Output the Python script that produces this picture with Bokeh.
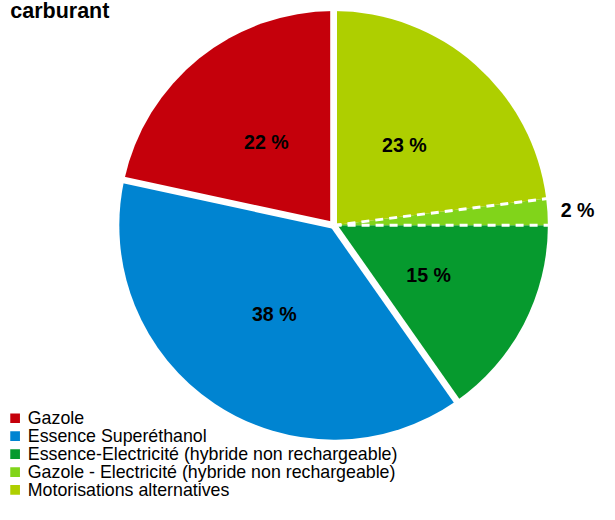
import math
from bokeh.plotting import figure
from bokeh.models import ColumnDataSource, Range1d
from bokeh.core.properties import value
from bokeh.embed import file_html
from bokeh.resources import INLINE

# ---- data ----
title_text = "carburant"
categories = [
    "Gazole",
    "Essence Superéthanol",
    "Essence-Electricité (hybride non rechargeable)",
    "Gazole - Electricité (hybride non rechargeable)",
    "Motorisations alternatives",
]
shares = [21.6, 38.1, 15.3, 2.0, 23.0]
colors = ["#C5000B", "#0084D1", "#069A2E", "#81D41A", "#AECF00"]

# ---- layout: data space mirrors a 615x520 canvas (y up) ----
W, H = 599, 504
RW, RH = 615, 520
CX, CY, R = 342, RH - 232, 220
FONT = "Liberation Sans"

p = figure(width=W, height=H, output_backend="svg", toolbar_location=None,
           x_range=Range1d(0, RW), y_range=Range1d(0, RH),
           x_axis_type=None, y_axis_type=None, min_border=0)
p.outline_line_color = None
p.grid.visible = False
p.background_fill_color = "white"
p.border_fill_color = "white"

total = sum(shares)
starts, ends = [], []
a = math.pi / 2
for v in shares:
    starts.append(a)
    a += v / total * 2 * math.pi
    ends.append(a)

src = ColumnDataSource(dict(start=starts, end=ends, color=colors))
p.wedge(x=CX, y=CY, radius=R, start_angle="start", end_angle="end",
        fill_color="color", line_color=None, source=src)

# separators: solid white gaps, dashed around the smallest slice
small = shares.index(min(shares))
sx0, sy0, sx1, sy1 = [], [], [], []
dx0, dy0, dx1, dy1 = [], [], [], []
n = len(shares)
for k in range(n):
    ang = starts[k]
    prev = (k - 1) % n
    x1 = CX + (R + 3) * math.cos(ang)
    y1 = CY + (R + 3) * math.sin(ang)
    if k == small or prev == small:
        dx0.append(CX); dy0.append(CY); dx1.append(x1); dy1.append(y1)
    else:
        sx0.append(CX); sy0.append(CY); sx1.append(x1); sy1.append(y1)
p.segment(x0=sx0, y0=sy0, x1=sx1, y1=sy1, line_color="white", line_width=6.8)
p.segment(x0=dx0, y0=dy0, x1=dx1, y1=dy1, line_color="white", line_width=3,
          line_dash="8 6")

# percentage labels
lx, ly, lt = [], [], []
for v, s0, e0 in zip(shares, starts, ends):
    mid = (s0 + e0) / 2
    rr = 251 if v < 5 else 110
    lx.append(CX + rr * math.cos(mid))
    ly.append(CY + rr * math.sin(mid))
    lt.append(f"{round(v)} %")
p.text(x=lx, y=ly, text=lt, text_align="center", text_baseline="middle",
       text_font=value(FONT), text_font_style="bold", text_font_size="19.6px",
       text_color="black")

# title
p.text(x=[10], y=[RH - 11], text=[title_text], text_align="left",
       text_baseline="middle", text_font=value(FONT),
       text_font_style="bold", text_font_size="21.5px", text_color="black")

# legend
base0, step = RH - 431, 18.5
ys = [base0 - i * step for i in range(n)]
p.scatter(x=[15] * n, y=ys, marker="square", size=9.7,
          fill_color=colors, line_color=None)
p.text(x=[28] * n, y=ys, text=categories, text_align="left",
       text_baseline="middle", text_font=value(FONT),
       text_font_size="17.8px", text_color="black")

open("out.html", "w").write(file_html(p, INLINE))
